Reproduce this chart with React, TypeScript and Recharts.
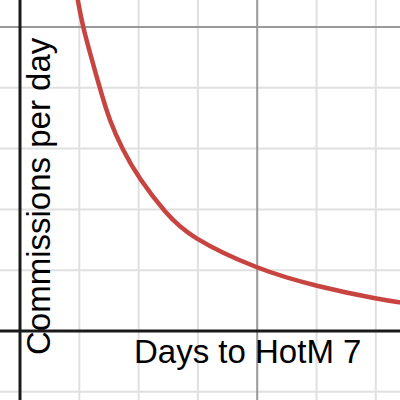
import { LineChart, Line, XAxis, YAxis, ReferenceLine } from "recharts";

// curve (x, y in grid cells)
const daysLeft = [0.94, 0.975, 1.067, 1.214, 1.349, 1.518, 1.735, 2.035, 2.445, 2.985, 3.997, 5.008, 5.987, 6.408, 6.6];
const perDay = [5.65, 5.444, 5.0, 4.457, 3.99, 3.47, 2.99, 2.49, 1.97, 1.52, 1.048, 0.745, 0.538, 0.472, 0.445];

const minorX = [1, 2, 3, 5, 6];
const majorX = [4];
const minorY = [-1, 1, 2, 3, 4];
const majorY = [5];

const xLabel = "Days to HotM 7";
const yLabel = "Commissions per day";

const data = daysLeft.map((d, i) => ({ d, v: perDay[i] }));

const W = 400;
const H = 400;
const font = "'Liberation Sans', Arial, sans-serif";

export default function App() {
  return (
    <div style={{ position: "absolute", left: 0, top: 0, width: W, height: H, background: "#fff" }}>
      <LineChart width={W} height={H} data={data} margin={{ top: 0, right: 0, bottom: 0, left: 0 }}>
        <XAxis dataKey="d" type="number" domain={[-0.3373, 6.408]} allowDataOverflow hide />
        <YAxis type="number" domain={[-1.135, 5.444]} allowDataOverflow hide />
        {minorX.map((x) => (
          <ReferenceLine key={"mx" + x} x={x} stroke="#e0e0e0" strokeWidth={2} />
        ))}
        {minorY.map((y) => (
          <ReferenceLine key={"my" + y} y={y} stroke="#e0e0e0" strokeWidth={2} />
        ))}
        {majorX.map((x) => (
          <ReferenceLine key={"Mx" + x} x={x} stroke="#999" strokeWidth={2} />
        ))}
        {majorY.map((y) => (
          <ReferenceLine key={"My" + y} y={y} stroke="#999" strokeWidth={2} />
        ))}
        <ReferenceLine x={0} stroke="#1a1a1a" strokeWidth={3} />
        <ReferenceLine y={0} stroke="#1a1a1a" strokeWidth={3} />
        <Line
          dataKey="v"
          type="natural"
          stroke="#c74440"
          strokeWidth={4.5}
          dot={false}
          isAnimationActive={false}
        />
      </LineChart>
      <svg width={W} height={H} style={{ position: "absolute", left: 0, top: 0, pointerEvents: "none" }}>
        <text x={134} y={363} fontFamily={font} fontSize={33} fill="#000">
          {xLabel}
        </text>
        <text x={50} y={355} transform="rotate(-90, 50, 355)" fontFamily={font} fontSize={33} fill="#000">
          {yLabel}
        </text>
      </svg>
    </div>
  );
}
